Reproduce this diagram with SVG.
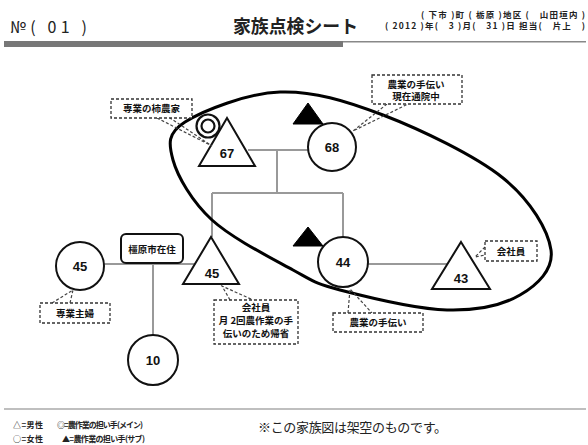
<svg xmlns="http://www.w3.org/2000/svg" width="588" height="445" viewBox="0 0 588 445">
<style>
.n{fill:#fff;stroke:#111;stroke-width:2}
.blk{fill:#000;stroke:#000;stroke-width:1}
.num{font-family:"Liberation Sans",Arial,sans-serif;font-size:13px;font-weight:bold;text-anchor:middle;fill:#111}
.lbl{font-family:"Noto Sans CJK JP",sans-serif;font-size:9.5px;font-weight:bold;text-anchor:middle;fill:#111}
.box{fill:#fff;stroke:#333;stroke-width:1.3;stroke-dasharray:3 2}
.lead{fill:none;stroke:#444;stroke-width:1.2;stroke-dasharray:3 2}
.con{stroke:#999;stroke-width:2;fill:none}
.hd{font-family:"Noto Sans CJK JP",sans-serif;fill:#222}
</style>
<rect width="588" height="445" fill="#fff"/>
<!-- header -->
<g id="header">
<text class="hd" x="10" y="33" font-size="16" textLength="77" lengthAdjust="spacing">№( 01 )</text>
<text class="hd" x="233" y="33" font-size="18" font-weight="bold" textLength="125" lengthAdjust="spacingAndGlyphs">家族点検シート</text>
<text class="hd" x="421" y="17.5" font-size="8.5" font-weight="bold" textLength="164" lengthAdjust="spacing">( 下市 )町 ( 栃原 )地区 (　山田垣内 )</text>
<text class="hd" x="385" y="28.5" font-size="8.5" font-weight="bold" textLength="200" lengthAdjust="spacing">( 2012 )年(　3 )月(　31 )日 担当(　片上　)</text>
<rect x="4" y="41" width="339" height="6" fill="#777"/>
<line x1="343" y1="41.7" x2="586" y2="41.7" stroke="#888" stroke-width="1.5"/>
</g>
<!-- connectors -->
<g id="connectors">
<polyline class="con" points="248,150 308,150"/>
<polyline class="con" points="277,150 277,193"/>
<polyline class="con" points="212,193 343,193"/>
<polyline class="con" points="212,193 212,237"/>
<polyline class="con" points="343,193 343,237"/>
<polyline class="con" points="104,264 195,264"/>
<polyline class="con" points="153,264 153,335"/>
<polyline class="con" points="367,264 448,264"/>
</g>
<!-- household ellipse -->
<path id="household" d="M185,122 C202.8,110.7 247,93.2 280,92 C313,90.8 345.8,100.7 383,115 C420.2,129.3 475,155.5 503,178 C531,200.5 548.2,230.5 551,250 C553.8,269.5 537.3,285 520,295 C502.7,305 477,310.8 447,310 C417,309.2 365.7,296.7 340,290 C314.3,283.3 314.3,281.7 293,270 C271.7,258.3 232,238.3 212,220 C192,201.7 177.5,176.3 173,160 C168.5,143.7 167.2,133.3 185,122 Z" fill="none" stroke="#000" stroke-width="3"/>
<!-- nodes -->
<g id="n67">
<polygon class="n" points="227,118 255,166 199,166"/>
<text class="num" x="227" y="158">67</text>
</g>
<g id="main-marker">
<circle cx="208" cy="126" r="11.5" fill="#fff" stroke="#111" stroke-width="2.2"/>
<circle cx="208" cy="126" r="6.5" fill="none" stroke="#111" stroke-width="2.2"/>
</g>
<g id="n68">
<circle class="n" cx="332" cy="147" r="24"/>
<text class="num" x="332" y="152">68</text>
</g>
<g id="sub-marker-68">
<polygon class="blk" points="308,103 323,124 293,124"/>
</g>
<g id="n45m">
<polygon class="n" points="211,237 239,284 183,284"/>
<text class="num" x="212" y="278">45</text>
</g>
<g id="n44">
<circle class="n" cx="343" cy="262" r="25"/>
<text class="num" x="343" y="267">44</text>
</g>
<g id="sub-marker-44">
<polygon class="blk" points="308,227 323,246 293,246"/>
</g>
<g id="n43">
<polygon class="n" points="461,242 490,289 432,289"/>
<text class="num" x="461" y="283">43</text>
</g>
<g id="n45f">
<circle class="n" cx="80" cy="266" r="24"/>
<text class="num" x="80" y="271">45</text>
</g>
<g id="n10">
<circle class="n" cx="153" cy="360" r="25"/>
<text class="num" x="153" y="365">10</text>
</g>
<g id="kashihara">
<rect x="121" y="234" width="62" height="29" rx="5" fill="#fff" stroke="#111" stroke-width="2"/>
<text class="lbl" x="152" y="252.5" font-weight="normal">橿原市在住</text>
</g>
<!-- callouts -->
<g id="c67">
<polyline class="lead" points="157,118 212,146 170,118"/>
<rect class="box" x="111" y="99" width="81" height="19"/>
<text class="lbl" x="151.5" y="112" font-size="10">専業の柿農家</text>
</g>
<g id="c68">
<polyline class="lead" points="387,104 353,131 408,104"/>
<rect class="box" x="372" y="75" width="90" height="29"/>
<text class="lbl" x="416" y="87.5">農業の手伝い</text>
<text class="lbl" x="416" y="100">現在通院中</text>
</g>
<g id="c45f">
<polyline class="lead" points="52,303 73,290 70,303"/>
<rect class="box" x="40" y="303" width="70" height="20"/>
<text class="lbl" x="75" y="316.5">専業主婦</text>
</g>
<g id="c45m">
<polyline class="lead" points="230,300 222,286 253,300"/>
<rect class="box" x="214" y="300" width="84" height="44"/>
<text class="lbl" x="256" y="311" font-size="9">会社員</text>
<text class="lbl" x="256" y="324" font-size="9">月 2回農作業の手</text>
<text class="lbl" x="256" y="337" font-size="9">伝いのため帰省</text>
</g>
<g id="c44">
<polyline class="lead" points="348,313 350,289 372,313"/>
<rect class="box" x="333" y="313" width="90" height="19"/>
<text class="lbl" x="378" y="326">農業の手伝い</text>
</g>
<g id="c43">
<polyline class="lead" points="485,247 475,257 485,255"/>
<rect class="box" x="485" y="241" width="52" height="20"/>
<text class="lbl" x="511" y="254.5">会社員</text>
</g>
<!-- footer -->
<g id="footer">
<line x1="4" y1="409" x2="586" y2="409" stroke="#aaa" stroke-width="1.5"/>
<text class="hd" x="13" y="428" font-size="8" font-weight="bold" textLength="30" lengthAdjust="spacing">△=男性</text>
<text class="hd" x="57" y="428" font-size="8" font-weight="bold" textLength="86" lengthAdjust="spacing">◎=農作業の担い手(メイン)</text>
<text class="hd" x="13" y="442" font-size="8" font-weight="bold" textLength="30" lengthAdjust="spacing">○=女性</text>
<text class="hd" x="62" y="442" font-size="8" font-weight="bold" textLength="83" lengthAdjust="spacing">▲=農作業の担い手(サブ)</text>
<text class="hd" x="258" y="432" font-size="13" textLength="189" lengthAdjust="spacing">※この家族図は架空のものです。</text>
</g>
</svg>
